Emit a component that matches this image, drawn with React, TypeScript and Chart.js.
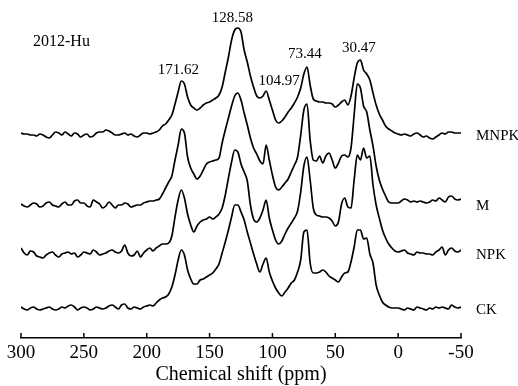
import React, { useEffect, useRef } from "react";
import { Chart, registerables } from "chart.js";

Chart.register(...registerables);

// Chemical shift grid (ppm)
const ppm = [
  300, 297.5, 295, 292.5, 290, 287.5, 285, 282.5, 280, 277.5,
  275, 272.5, 270, 267.5, 265, 262.5, 260, 257.5, 255, 252.5,
  250, 247.5, 245, 242.5, 240, 237.5, 235, 232.5, 230, 227.5,
  225, 222.5, 220, 217.5, 215, 212.5, 210, 207.5, 205, 202.5,
  200, 197.5, 195, 192.5, 190, 187.5, 185, 182.5, 180, 177.5,
  175, 172.5, 170, 167.5, 165, 162.5, 160, 157.5, 155, 152.5,
  150, 147.5, 145, 142.5, 140, 137.5, 135, 132.5, 130, 127.5,
  125, 122.5, 120, 117.5, 115, 112.5, 110, 107.5, 105, 102.5,
  100, 97.5, 95, 92.5, 90, 87.5, 85, 82.5, 80, 77.5,
  75, 72.5, 70, 67.5, 65, 62.5, 60, 57.5, 55, 52.5,
  50, 47.5, 45, 42.5, 40, 37.5, 35, 32.5, 30, 27.5,
  25, 22.5, 20, 17.5, 15, 12.5, 10, 7.5, 5, 2.5,
  0, -2.5, -5, -7.5, -10, -12.5, -15, -17.5, -20, -22.5,
  -25, -27.5, -30, -32.5, -35, -37.5, -40, -42.5, -45, -47.5,
  -50,
];

// Intensities (relative to each trace's own baseline)
const mnpk = [
  1, 0, 0, -1, -1, -2, 0, -1, -3, -4,
  -1, 2, 1, -1, 2, 0, -2, 1, 0, -3,
  -1, 0, -3, -2, 1, 2, 2, 4, 3, 1,
  -1, -1, 0, 1, -1, 0, -2, -3, -1, 1,
  1, 0, 1, 2, 4, 8, 10, 14, 19, 30,
  42, 53, 50, 37, 29, 26, 24, 26, 29, 31,
  32, 34, 36, 39, 47, 62, 77, 94, 104, 106,
  102, 84, 72, 58, 47, 38, 36, 38, 43, 34,
  24, 14, 11, 13, 17, 22, 26, 31, 37, 46,
  60, 67, 49, 35, 33, 32, 32, 31, 31, 30,
  27, 29, 32, 34, 29, 38, 56, 71, 74, 64,
  60, 54, 41, 29, 20, 14, 8, 5, 3, 1,
  0, -1, 0, -1, -2, 0, 1, -1, -3, -2,
  -4, -5, -3, -1, 1, 0, 2, 2, 1, 1,
  1,
];

const m = [
  0, -2, -3, -1, 1, 0, -3, -2, 1, 2,
  -1, -2, -3, 0, 2, -1, -1, 3, 4, 1,
  1, -2, -3, 4, 2, 0, -4, -2, 2, -1,
  -4, -1, -1, 1, 0, -3, -2, -1, -1, 1,
  2, 3, 3, 4, 5, 10, 16, 22, 28, 44,
  59, 75, 71, 47, 36, 30, 25, 28, 34, 40,
  42, 43, 44, 46, 61, 74, 86, 98, 108, 111,
  104, 91, 79, 66, 56, 50, 43, 40, 59, 44,
  29, 17, 14, 17, 21, 25, 32, 39, 47, 69,
  94, 100, 64, 44, 43, 48, 41, 48, 51, 44,
  36, 41, 48, 49, 47, 56, 89, 120, 116, 98,
  92, 74, 58, 38, 24, 15, 8, 2, 1, 1,
  1, 3, 5, 4, 2, 3, 2, 3, 2, 1,
  2, 4, 3, 6, 4, 2, 7, 8, 5, 4,
  5,
];

const npk = [
  5, 0, -2, 2, 1, -3, -4, -5, -2, 0,
  1, -2, -4, -1, 0, 1, -1, 0, -4, -2,
  1, 0, -1, 3, 1, -2, -1, 0, 2, 3,
  1, 0, 2, 8, 0, -3, -2, 2, -4, 0,
  3, 5, 2, 5, 7, 9, 9, 10, 17, 36,
  53, 63, 55, 39, 28, 21, 27, 31, 33, 34,
  36, 34, 36, 39, 45, 58, 75, 91, 103, 101,
  89, 81, 72, 48, 34, 31, 35, 43, 53, 35,
  23, 13, 9, 12, 19, 25, 30, 35, 42, 61,
  87, 96, 73, 45, 38, 37, 36, 36, 35, 32,
  27, 31, 49, 55, 46, 45, 73, 98, 93, 105,
  95, 97, 68, 48, 35, 23, 15, 9, 5, 2,
  1, 2, 3, 0, -1, -2, 1, 0, 0, -1,
  -1, -2, 1, 3, 6, -2, 3, 5, 2, 1,
  3,
];

const ck = [
  1, -1, -2, 0, 1, -1, -2, -1, 0, 1,
  -1, -2, -1, 1, 0, 2, 3, 1, -2, 0,
  1, 0, -2, -1, 1, 0, -1, 0, 2, 3,
  1, -1, 3, 4, 0, -1, 1, 0, -1, 1,
  2, 3, 2, 5, 8, 10, 11, 14, 21, 33,
  48, 58, 53, 38, 29, 24, 24, 28, 29, 31,
  33, 35, 39, 44, 55, 66, 78, 91, 103, 103,
  96, 88, 76, 65, 54, 44, 36, 44, 50, 36,
  27, 20, 15, 12, 16, 20, 25, 28, 36, 48,
  76, 78, 45, 35, 35, 36, 38, 36, 32, 30,
  28, 26, 31, 35, 36, 46, 61, 78, 78, 69,
  70, 54, 45, 23, 13, 6, 3, 1, 0, 0,
  0, -1, -2, 0, -1, -2, 1, 0, -1, -2,
  0, -1, 1, 0, 1, 0, -1, 3, 1, 0,
  1,
];

const seriesNames = ["MNPK", "M", "NPK", "CK"];
const seriesValues = [mnpk, m, npk, ck];
const offsets = [204, 134, 85, 30];

const peakLabels = ["171.62", "128.58", "104.97", "73.44", "30.47"];
const peakPpm = [171.62, 128.58, 104.97, 73.44, 30.47];
const xTicks = [300, 250, 200, 150, 100, 50, 0, -50];
const yearLabel = "2012-Hu";
const xTitle = "Chemical shift (ppm)";

const SERIF = "'Liberation Serif', 'Times New Roman', serif";

// layout tweaks for peak labels (pixel nudges and label centre heights)
const peakDx = [-4, -4, 13, -1, -1];
const peakY = [70.5, 18, 81, 54, 48.5];

const overlayPlugin = {
  id: "overlay",
  afterDraw(chart: any) {
    const { ctx, chartArea, scales } = chart;
    const xs = scales.x;
    const ys = scales.y;
    ctx.save();
    // inward (upward) tick marks
    ctx.strokeStyle = "#000";
    ctx.lineWidth = 1.5;
    xTicks.forEach((v) => {
      const x = xs.getPixelForValue(v);
      ctx.beginPath();
      ctx.moveTo(x, chartArea.bottom);
      ctx.lineTo(x, chartArea.bottom - 5);
      ctx.stroke();
    });
    ctx.fillStyle = "#000";
    ctx.textBaseline = "middle";
    // peak labels
    ctx.font = `15px ${SERIF}`;
    ctx.textAlign = "center";
    peakLabels.forEach((t, i) => {
      const x = xs.getPixelForValue(peakPpm[i]) + peakDx[i];
      ctx.fillText(t, x, peakY[i]);
    });
    // series labels
    ctx.textAlign = "left";
    seriesNames.forEach((n, i) => {
      const y = ys.getPixelForValue(offsets[i]) + 2;
      ctx.fillText(n, chartArea.right + 15, y);
    });
    // year label
    ctx.font = `16px ${SERIF}`;
    ctx.fillText(yearLabel, chartArea.left + 12, 42);
    ctx.restore();
  },
};

export default function App() {
  const ref = useRef<HTMLCanvasElement | null>(null);
  useEffect(() => {
    if (!ref.current) return;
    const datasets = seriesNames.map((name, k) => ({
      label: name,
      data: ppm.map((p, i) => ({ x: p, y: offsets[k] + seriesValues[k][i] })),
      borderColor: "#000",
      borderWidth: 1.7,
      borderJoinStyle: "round" as const,
      pointRadius: 0,
      cubicInterpolationMode: "monotone" as const,
      fill: false,
    }));
    const chart = new Chart(ref.current, {
      type: "line",
      data: { datasets },
      options: {
        animation: false,
        responsive: false,
        layout: { padding: { top: 8, left: 21, right: 57, bottom: 0 } },
        plugins: { legend: { display: false }, tooltip: { enabled: false } },
        scales: {
          x: {
            type: "linear",
            reverse: true,
            min: -50,
            max: 300,
            afterFit: (scale: any) => {
              scale.height = 48;
            },
            afterBuildTicks: (scale: any) => {
              scale.ticks = xTicks.map((v) => ({ value: v }));
            },
            ticks: {
              color: "#000",
              padding: 4,
              maxRotation: 0,
              autoSkip: false,
              font: { family: SERIF, size: 19 },
              callback: (v: any) => String(v),
            },
            grid: { display: true, drawOnChartArea: false, drawTicks: false },
            border: { display: true, color: "#000", width: 1.5 },
            title: {
              display: true,
              text: xTitle,
              color: "#000",
              font: { family: SERIF, size: 20 },
              padding: { top: 0, bottom: -1 },
            },
          },
          y: { display: false, min: 0, max: 330 },
        },
      },
      plugins: [overlayPlugin],
    });
    return () => chart.destroy();
  }, []);
  return (
    <div style={{ position: "fixed", left: 0, top: 0, width: 518, height: 386, background: "#fff" }}>
      <canvas ref={ref} width={518} height={386} />
    </div>
  );
}
